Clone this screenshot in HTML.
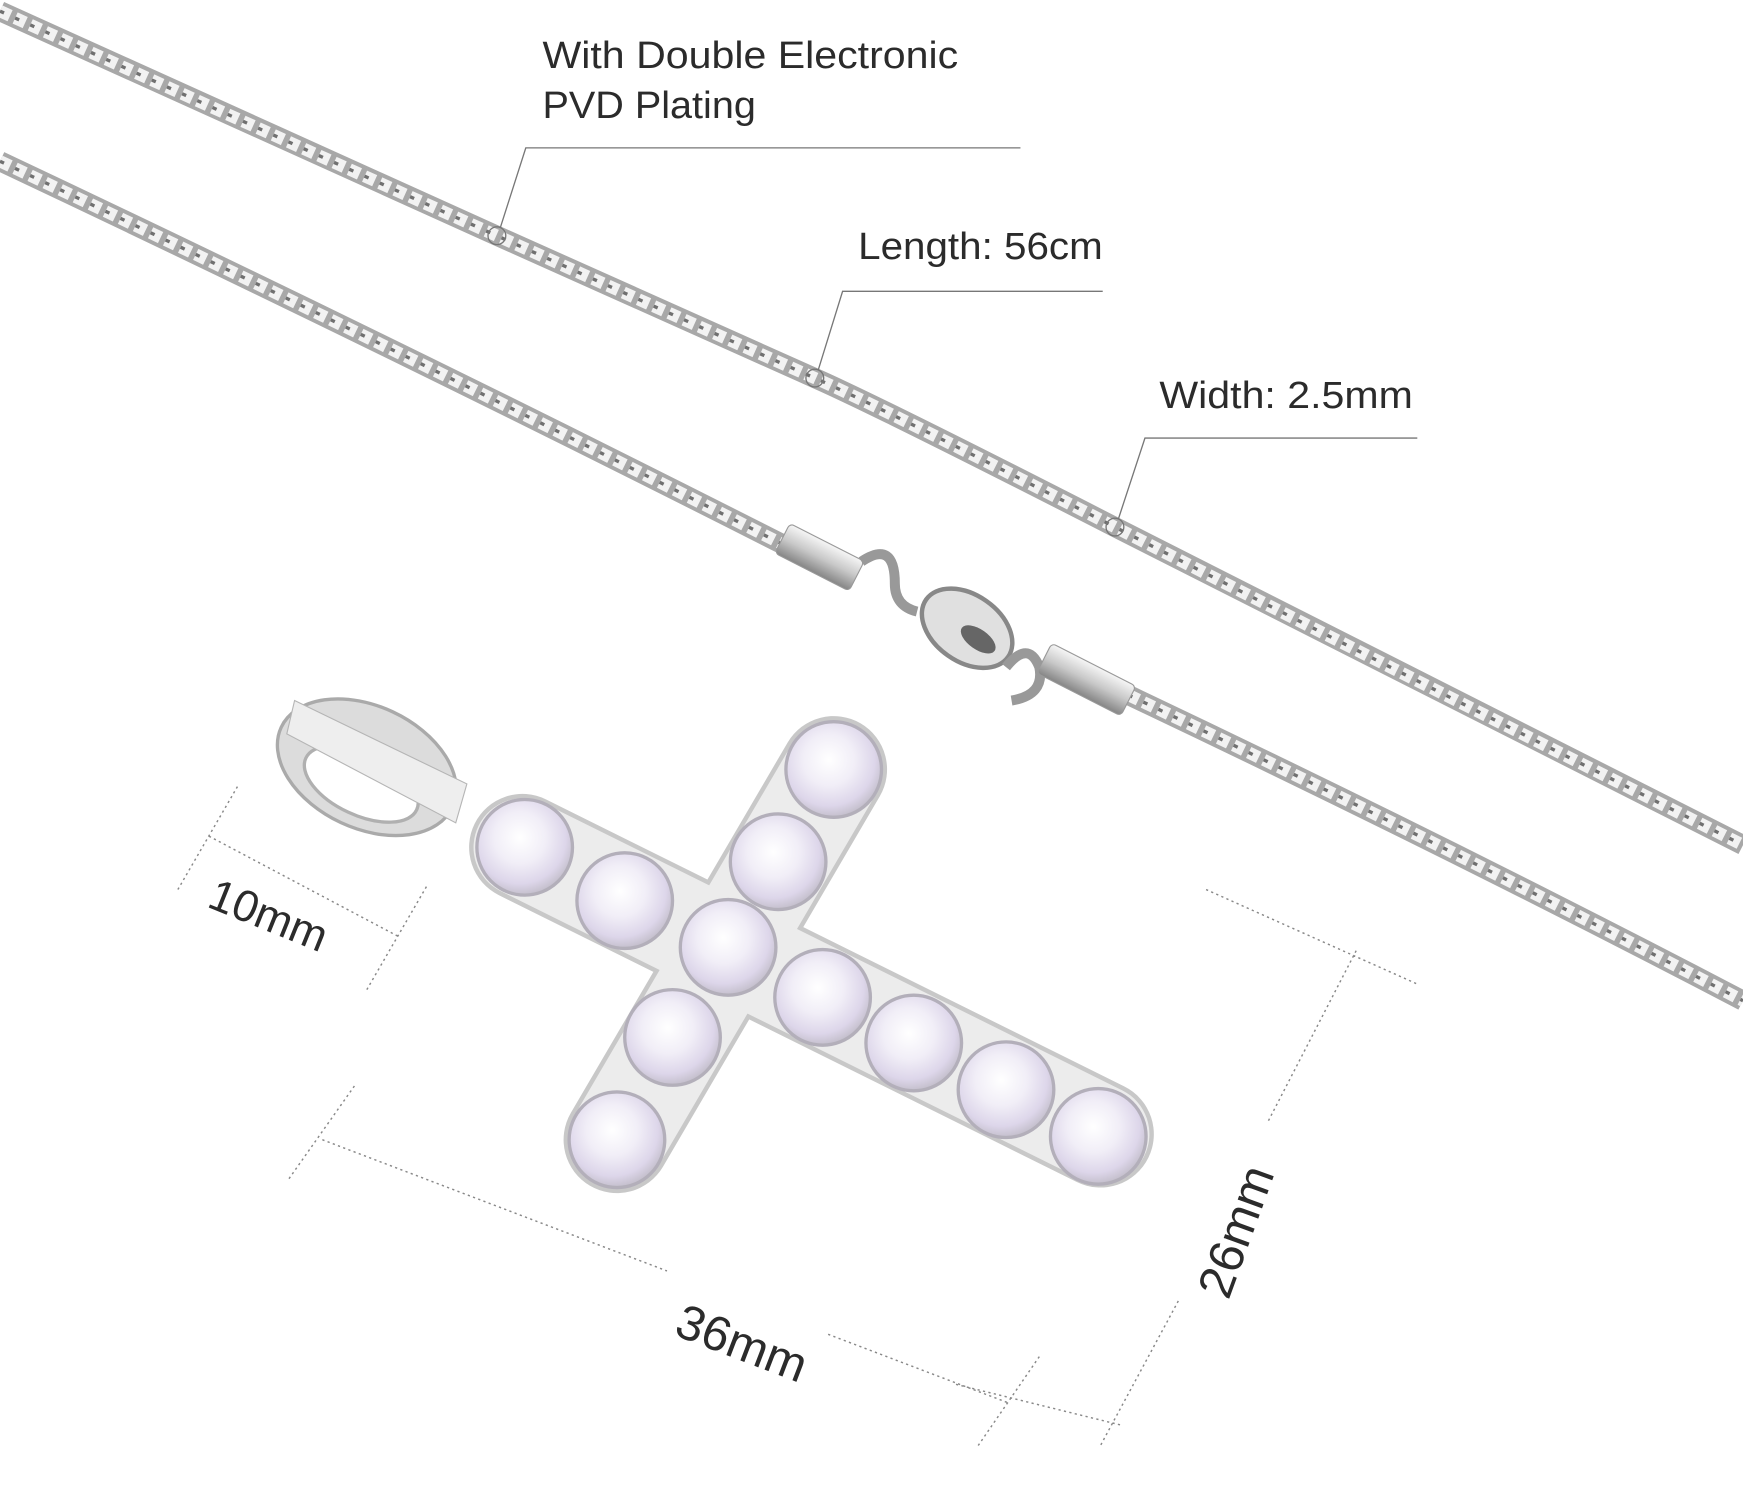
<!DOCTYPE html>
<html><head><meta charset="utf-8"><style>
html,body{margin:0;padding:0;background:#fff;}
svg{display:block}
text{font-family:"Liberation Sans",sans-serif;fill:#2b2b2b}
</style></head><body>
<svg width="1743" height="1500" viewBox="0 0 1568 1349" preserveAspectRatio="none">
<defs>
<radialGradient id="st" cx="45%" cy="40%" r="60%">
<stop offset="0" stop-color="#ffffff"/><stop offset="0.45" stop-color="#f1eef7"/><stop offset="0.8" stop-color="#ddd6ea"/><stop offset="1" stop-color="#c4bfcc"/>
</radialGradient>
<linearGradient id="tube" x1="0" y1="0" x2="0" y2="1"><stop offset="0" stop-color="#f6f6f6"/><stop offset="0.5" stop-color="#c8c8c8"/><stop offset="1" stop-color="#858585"/></linearGradient>
</defs>
<!-- chains -->
<g fill="none" stroke-linecap="butt">
<g id="ch1">
<path d="M0,10 Q220,110 447,212 T733,340 T1003,474 T1568,760" stroke="#a8a8a8" stroke-width="18"/>
<path d="M0,10 Q220,110 447,212 T733,340 T1003,474 T1568,760" stroke="#f2f2f2" stroke-width="11" stroke-dasharray="10 5"/>
<path d="M0,10 Q220,110 447,212 T733,340 T1003,474 T1568,760" stroke="#707070" stroke-width="3" stroke-dasharray="4 11"/>
</g>
<path d="M0,145 Q350,310 705,490" stroke="#a8a8a8" stroke-width="18"/>
<path d="M0,145 Q350,310 705,490" stroke="#f2f2f2" stroke-width="11" stroke-dasharray="10 5"/>
<path d="M0,145 Q350,310 705,490" stroke="#707070" stroke-width="3" stroke-dasharray="4 11"/>
<path d="M1015,625 Q1300,760 1568,900" stroke="#a8a8a8" stroke-width="18"/>
<path d="M1015,625 Q1300,760 1568,900" stroke="#f2f2f2" stroke-width="11" stroke-dasharray="10 5"/>
<path d="M1015,625 Q1300,760 1568,900" stroke="#707070" stroke-width="3" stroke-dasharray="4 11"/>
</g>
<!-- clasp -->
<g transform="rotate(27 735 500)"><rect x="700" y="485" width="75" height="30" rx="4" fill="url(#tube)" stroke="#999"/></g>
<path d="M775,505 q30,-20 30,20 q0,20 20,25" fill="none" stroke="#999" stroke-width="9"/>
<ellipse cx="870" cy="565" rx="45" ry="30" transform="rotate(35 870 565)" fill="#e0e0e0" stroke="#888" stroke-width="4"/>
<ellipse cx="880" cy="575" rx="18" ry="9" transform="rotate(35 880 575)" fill="#666"/>
<path d="M905,600 q20,-25 30,0 q5,25 -25,30" fill="none" stroke="#999" stroke-width="9"/>
<g transform="rotate(27 975 610)"><rect x="935" y="595" width="85" height="30" rx="4" fill="url(#tube)" stroke="#999"/></g>
<!-- labels -->
<text x="488" y="61" font-size="34" textLength="374" lengthAdjust="spacingAndGlyphs">With Double Electronic</text>
<text x="488" y="106" font-size="34" textLength="192" lengthAdjust="spacingAndGlyphs">PVD Plating</text>
<text x="772" y="233" font-size="34" textLength="220" lengthAdjust="spacingAndGlyphs">Length: 56cm</text>
<text x="1043" y="367" font-size="34" textLength="228" lengthAdjust="spacingAndGlyphs">Width: 2.5mm</text>
<g fill="none" stroke="#777" stroke-width="1.2">
<path d="M918,133 H473 L450,205"/><circle cx="447" cy="212" r="8"/>
<path d="M992,262 H758 L736,333"/><circle cx="733" cy="340" r="8"/>
<path d="M1275,394 H1030 L1006,467"/><circle cx="1003" cy="474" r="8"/>
</g>
<!-- bail -->
<ellipse cx="330" cy="690" rx="85" ry="55" transform="rotate(25 330 690)" fill="#dcdcdc" stroke="#aaa" stroke-width="3"/>
<ellipse cx="325" cy="705" rx="55" ry="28" transform="rotate(25 325 705)" fill="#fff" stroke="#b0b0b0" stroke-width="3"/>
<path d="M265,630 L420,705 L410,740 L258,660 Z" fill="#eeeeee" stroke="#b5b5b5"/>
<!-- cross backing -->
<g stroke-linecap="round" fill="none">
<path d="M470,762 L990,1020" stroke="#c8c8c8" stroke-width="96"/>
<path d="M750,692 L555,1025" stroke="#c8c8c8" stroke-width="96"/>
<path d="M470,762 L990,1020" stroke="#ececec" stroke-width="88"/>
<path d="M750,692 L555,1025" stroke="#ececec" stroke-width="88"/>
</g>
<!-- stones -->
<g stroke="#b3afba" stroke-width="3">
<circle cx="750" cy="692" r="43" fill="url(#st)"/>
<circle cx="700" cy="775" r="43" fill="url(#st)"/>
<circle cx="605" cy="933" r="43" fill="url(#st)"/>
<circle cx="555" cy="1025" r="43" fill="url(#st)"/>
<circle cx="472" cy="762" r="43" fill="url(#st)"/>
<circle cx="562" cy="810" r="43" fill="url(#st)"/>
<circle cx="655" cy="852" r="43" fill="url(#st)"/>
<circle cx="740" cy="897" r="43" fill="url(#st)"/>
<circle cx="822" cy="938" r="43" fill="url(#st)"/>
<circle cx="905" cy="980" r="43" fill="url(#st)"/>
<circle cx="988" cy="1022" r="43" fill="url(#st)"/>
</g>
<!-- dimensions -->
<g fill="none" stroke="#888" stroke-width="1.3" stroke-dasharray="2 3">
<path d="M160,800 L215,705 M330,890 L385,795 M188,752 L358,842"/>
<path d="M260,1060 L320,975 M880,1300 L935,1220 M290,1025 L600,1143 M745,1200 L908,1262"/>
<path d="M1085,800 L1275,885 M860,1245 L1010,1282 M1220,855 L1140,1010 M1060,1170 L990,1300"/>
</g>
<text x="0" y="0" font-size="40" transform="translate(185,815) rotate(22)">10mm</text>
<text x="0" y="0" font-size="44" transform="translate(605,1200) rotate(21)">36mm</text>
<text x="0" y="0" font-size="44" transform="translate(1105,1170) rotate(-70)">26mm</text>
</svg>
</body></html>
